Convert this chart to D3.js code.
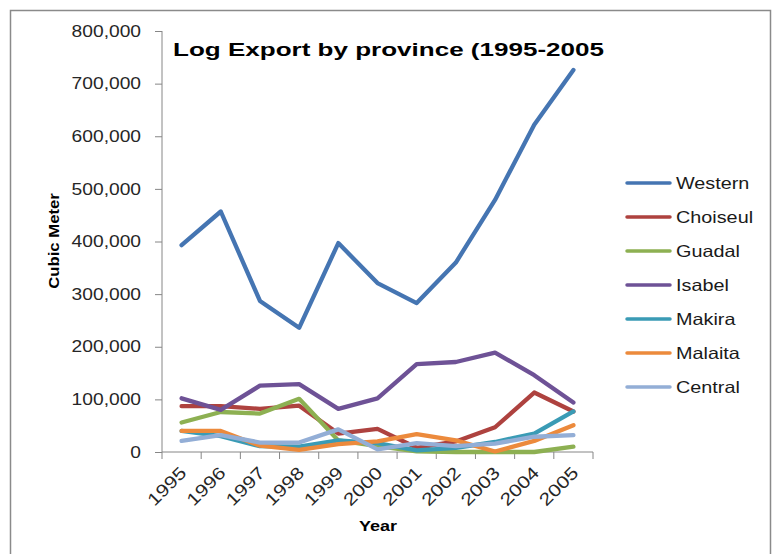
<!DOCTYPE html>
<html>
<head>
<meta charset="utf-8">
<script src="https://cdn.jsdelivr.net/npm/d3@7"></script>
<style>
  body { margin: 0; background: #fff; }
</style>
</head>
<body>
<script>
// Datos del gráfico
const years = ["1995", "1996", "1997", "1998", "1999", "2000", "2001", "2002", "2003", "2004", "2005"];
const provinces = ["Western", "Choiseul", "Guadal", "Isabel", "Makira", "Malaita", "Central"];
const western = [393000, 457000, 287000, 236000, 397000, 321000, 283000, 360000, 479000, 622000, 726000];
const choiseul = [87000, 87000, 82000, 88000, 35000, 44000, 8000, 20000, 47000, 113000, 77000];
const guadal = [56000, 76000, 73000, 101000, 22000, 11000, 1000, 0, 0, 0, 10000];
const isabel = [102000, 80000, 126000, 129000, 82000, 102000, 167000, 171000, 189000, 146000, 94000];
const makira = [40000, 30000, 11000, 10000, 22000, 17000, 3000, 8000, 19000, 35000, 77000];
const malaita = [40000, 40000, 12000, 4000, 15000, 20000, 34000, 22000, 1000, 21000, 51000];
const central = [21000, 32000, 18000, 18000, 43000, 5000, 17000, 11000, 16000, 29000, 32000];
const yTicks = [0, 100000, 200000, 300000, 400000, 500000, 600000, 700000, 800000];

const series = [western, choiseul, guadal, isabel, makira, malaita, central];
const COLORS = ["#4575B2", "#AE423F", "#8DB052", "#6E5296", "#3A9BB5", "#EC8A3C", "#93AED6"];

const WIDTH = 774;
const HEIGHT = 554;
const PLOT = { left: 162, right: 593, top: 31, bottom: 452 };
const STRETCH = 1.2;

const svg = d3.select("body")
  .append("svg")
  .attr("width", WIDTH)
  .attr("height", HEIGHT)
  .style("font-family", "'Liberation Sans', Arial, sans-serif");

// Marco exterior
svg.append("rect")
  .attr("x", 10.5).attr("y", 10.5)
  .attr("width", 760).attr("height", 570)
  .attr("fill", "none")
  .attr("stroke", "#8a8a8a")
  .attr("stroke-width", 1.5);

// Estira horizontalmente los textos como en la imagen original
const stretch = (sel, k) => sel.each(function () {
  const w = this.getComputedTextLength();
  d3.select(this).attr("textLength", w * k).attr("lengthAdjust", "spacingAndGlyphs");
});

const escalaX = d3.scaleBand()
  .domain(years)
  .range([PLOT.left, PLOT.right])
  .padding(0);

const escalaY = d3.scaleLinear()
  .domain([0, 800000])
  .range([PLOT.bottom, PLOT.top]);

// Eje Y
const ejeY = d3.axisLeft(escalaY)
  .tickValues(yTicks)
  .tickSize(7)
  .tickPadding(14)
  .tickFormat(d3.format(","));

const contenedorEjeY = svg.append("g")
  .attr("transform", `translate(${PLOT.left}, 0)`)
  .call(ejeY);
contenedorEjeY.select(".domain").attr("stroke", "#868686").attr("d", `M0,${PLOT.top}V${PLOT.bottom}`);
contenedorEjeY.selectAll(".tick line").attr("stroke", "#868686");
contenedorEjeY.selectAll(".tick text")
  .attr("fill", "#262626")
  .attr("font-size", 16)
  .call(stretch, STRETCH);

// Eje X (marcas en los bordes de cada categoría)
const contenedorEjeX = svg.append("g")
  .attr("transform", `translate(0, ${PLOT.bottom})`);
contenedorEjeX.append("line")
  .attr("x1", PLOT.left).attr("x2", PLOT.right)
  .attr("stroke", "#868686");
contenedorEjeX.selectAll(".marca")
  .data(years.concat(["fin"]))
  .join("line")
  .attr("class", "marca")
  .attr("x1", (d, i) => PLOT.left + i * escalaX.step())
  .attr("x2", (d, i) => PLOT.left + i * escalaX.step())
  .attr("y1", 0).attr("y2", 7)
  .attr("stroke", "#868686");
contenedorEjeX.selectAll(".etiqueta")
  .data(years)
  .join("text")
  .attr("class", "etiqueta")
  .attr("text-anchor", "end")
  .attr("font-size", 17.5)
  .attr("fill", "#262626")
  .attr("transform", d => `translate(${escalaX(d) + escalaX.bandwidth() / 2 + 6}, 22) rotate(-45)`)
  .text(d => d)
  .call(stretch, STRETCH);

// Líneas de datos
const linea = d3.line()
  .x((d, i) => escalaX(years[i]) + escalaX.bandwidth() / 2)
  .y(d => escalaY(d));

svg.append("g")
  .selectAll("path")
  .data(series)
  .join("path")
  .attr("d", linea)
  .attr("fill", "none")
  .attr("stroke", (d, i) => COLORS[i])
  .attr("stroke-width", 4.3)
  .attr("stroke-linejoin", "round")
  .attr("stroke-linecap", "round");

// Título
svg.append("text")
  .attr("x", 173).attr("y", 56)
  .attr("font-size", 18)
  .attr("font-weight", "bold")
  .attr("fill", "#000")
  .attr("textLength", 431)
  .attr("lengthAdjust", "spacingAndGlyphs")
  .text("Log Export by province (1995-2005");

// Títulos de ejes
svg.append("text")
  .attr("transform", "translate(59, 241) rotate(-90)")
  .attr("text-anchor", "middle")
  .attr("font-size", 14.5)
  .attr("font-weight", "bold")
  .text("Cubic Meter")
  .call(stretch, 1.15);

svg.append("text")
  .attr("x", 378).attr("y", 531)
  .attr("text-anchor", "middle")
  .attr("font-size", 15)
  .attr("font-weight", "bold")
  .text("Year")
  .call(stretch, STRETCH);

// Leyenda
const leyenda = svg.append("g")
  .selectAll("g")
  .data(provinces)
  .join("g")
  .attr("transform", (d, i) => `translate(627, ${183 + i * 34})`);
leyenda.append("line")
  .attr("x1", 0).attr("x2", 43)
  .attr("stroke", (d, i) => COLORS[i])
  .attr("stroke-width", 3.5)
  .attr("stroke-linecap", "round");
leyenda.append("text")
  .attr("x", 49).attr("y", 6)
  .attr("font-size", 16.5)
  .attr("fill", "#1a1a1a")
  .text(d => d)
  .call(stretch, STRETCH);
</script>
</body>
</html>
